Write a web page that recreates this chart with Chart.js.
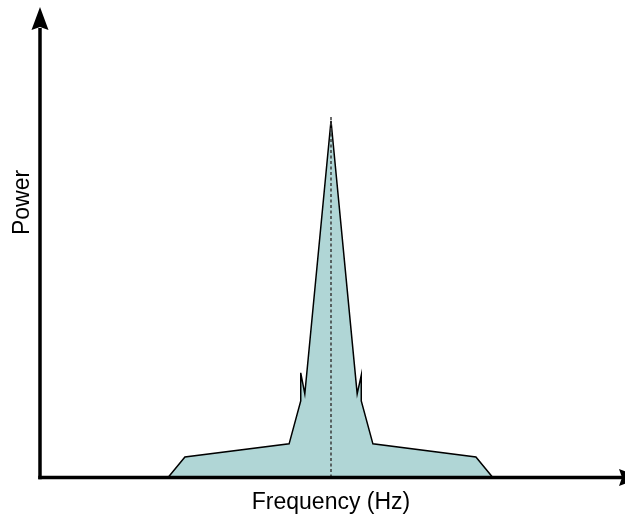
<!DOCTYPE html>
<html>
<head>
<meta charset="utf-8">
<script src="https://cdn.jsdelivr.net/npm/chart.js@4/dist/chart.umd.min.js"></script>
<style>
  html, body { margin: 0; padding: 0; background: #ffffff; }
  #wrap { width: 625px; height: 517px; }
</style>
</head>
<body>
<div id="wrap"><canvas id="c" width="625" height="517"></canvas></div>
<script>
// Spectrum outline (frequency, power) in arbitrary units
const frequency = [22.0, 24.9, 42.8, 44.8, 44.8, 45.5, 50.0, 54.5, 55.2, 55.2, 57.2, 74.9, 77.8];
const power     = [0.0,  4.4,  7.2,  16.4, 22.4, 17.9, 76.3, 17.9, 21.9, 16.4, 7.2,  4.4,  0.0];
// Centre frequency marker
const centerFrequency = [50.0, 50.0];
const centerPower = [0.0, 77.1];
const xTitle = 'Frequency (Hz)';
const yTitle = 'Power';

const spectrum = frequency.map((f, i) => ({ x: f, y: power[i] }));
const marker = centerFrequency.map((f, i) => ({ x: f, y: centerPower[i] }));

const axesPlugin = {
  id: 'axesArrows',
  afterDraw(chart) {
    const ctx = chart.ctx;
    const a = chart.chartArea;
    const x0 = a.left, y0 = a.bottom;
    ctx.save();
    ctx.strokeStyle = '#000';
    ctx.fillStyle = '#000';
    ctx.lineWidth = 3.5;
    ctx.lineCap = 'butt';
    // y axis
    ctx.beginPath();
    ctx.moveTo(x0, y0 + 1.75);
    ctx.lineTo(x0, 28);
    ctx.stroke();
    // x axis
    ctx.beginPath();
    ctx.moveTo(x0 - 1.75, y0);
    ctx.lineTo(622, y0);
    ctx.stroke();
    // y arrow head
    ctx.beginPath();
    ctx.moveTo(x0, 7);
    ctx.lineTo(x0 + 8.5, 30);
    ctx.lineTo(x0, 27);
    ctx.lineTo(x0 - 8.5, 30);
    ctx.closePath();
    ctx.fill();
    // x arrow head
    ctx.beginPath();
    ctx.moveTo(642, y0);
    ctx.lineTo(619, y0 - 8.5);
    ctx.lineTo(622, y0);
    ctx.lineTo(619, y0 + 8.5);
    ctx.closePath();
    ctx.fill();
    // titles
    ctx.font = '23px "Liberation Sans", Arial, sans-serif';
    ctx.textAlign = 'center';
    ctx.textBaseline = 'alphabetic';
    ctx.fillText(xTitle, (a.left + a.right) / 2, 509);
    ctx.translate(29, 202.5);
    ctx.rotate(-Math.PI / 2);
    ctx.fillText(yTitle, 0, 0);
    ctx.restore();
  }
};

new Chart(document.getElementById('c'), {
  type: 'scatter',
  data: {
    datasets: [
      {
        data: marker,
        showLine: true,
        borderColor: '#3a3a3a',
        borderWidth: 1.5,
        borderDash: [3, 2.5],
        pointRadius: 0,
        fill: false,
        order: 0
      },
      {
        data: spectrum,
        showLine: true,
        borderColor: '#000000',
        borderWidth: 1.5,
        backgroundColor: '#b0d6d6',
        pointRadius: 0,
        tension: 0,
        fill: 'origin',
        order: 1
      }
    ]
  },
  plugins: [axesPlugin],
  options: {
    responsive: false,
    animation: false,
    devicePixelRatio: 1,
    layout: { padding: { left: 40, right: 3, top: 10, bottom: 39.5 } },
    plugins: { legend: { display: false }, tooltip: { enabled: false } },
    scales: {
      x: { type: 'linear', min: 0, max: 100, display: false },
      y: { type: 'linear', min: 0, max: 100, display: false }
    }
  }
});
</script>
</body>
</html>
